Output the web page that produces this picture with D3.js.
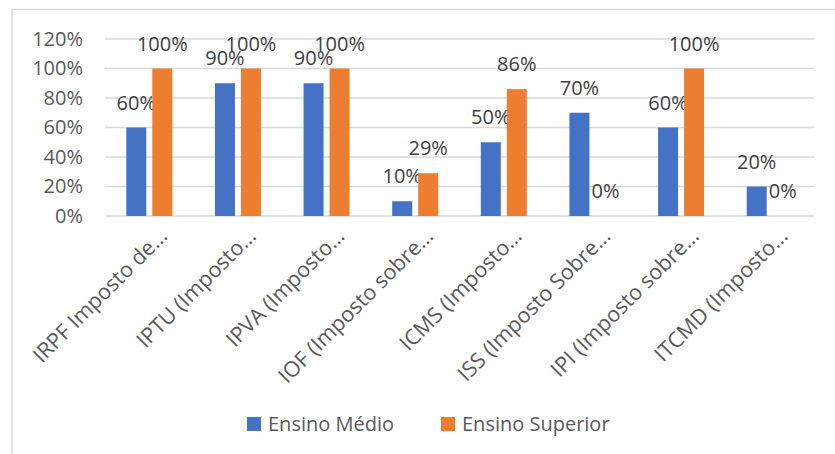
<!DOCTYPE html>
<html><head><meta charset="utf-8">
<script src="https://cdn.jsdelivr.net/npm/d3@7"></script>
<style>body{margin:0;background:#fff}svg{display:block}text{font-family:"Open Sans",Lato,sans-serif}</style>
</head><body><svg id="c" width="835" height="454"></svg>
<script>
const categories = ["IRPF Imposto de…","IPTU (Imposto…","IPVA (Imposto…","IOF (Imposto sobre…","ICMS (Imposto…","ISS (Imposto Sobre…","IPI (Imposto sobre…","ITCMD (Imposto…"];
const seriesNames = ["Ensino Médio","Ensino Superior"];
const ensinoMedio = [60,90,90,10,50,70,60,20];
const ensinoSuperior = [100,100,100,29,86,0,100,0];
const yTicks = [0,20,40,60,80,100,120];
const colors = ["#4472C4","#ED7D31"];

const svg = d3.select("#c");
svg.append("rect").attr("x",12).attr("y",9.5).attr("width",840).attr("height",460)
  .attr("fill","none").attr("stroke","#d9d9d9").attr("stroke-width",1.5);

const x = d3.scaleBand().domain(categories).range([105,814]);
const y = d3.scaleLinear().domain([0,120]).range([216,39]);
const barW = 20, gap = 6;

const g = svg.append("g");
g.selectAll("line.grid").data(yTicks).join("line").attr("class","grid")
  .attr("x1",105).attr("x2",814).attr("y1",d=>y(d)).attr("y2",d=>y(d))
  .attr("stroke","#d9d9d9").attr("stroke-width",1.5);

const yAxis = d3.axisLeft(y).tickValues(yTicks).tickFormat(d=>d+"%").tickSize(0).tickPadding(0);
const ya = svg.append("g").attr("transform","translate(83,0)").call(yAxis);
ya.select(".domain").remove();
ya.selectAll("text").attr("font-size",20).attr("fill","#595959").attr("font-family","Open Sans");

const series = [ensinoMedio, ensinoSuperior];
series.forEach((vals,si)=>{
  const off = si===0 ? -gap/2-barW : gap/2;
  const cx = c => x(c)+x.bandwidth()/2+off;
  g.selectAll("rect.s"+si).data(categories).join("rect").attr("class","s"+si)
    .attr("x",c=>cx(c)).attr("width",barW)
    .attr("y",(c,i)=>y(vals[i])).attr("height",(c,i)=>y(0)-y(vals[i]))
    .attr("fill",colors[si]);
  g.selectAll("text.l"+si).data(categories).join("text").attr("class","l"+si)
    .attr("x",c=>cx(c)+barW/2).attr("y",(c,i)=>y(vals[i])-18)
    .attr("text-anchor","middle").attr("font-size",20).attr("fill","#404040")
    .text((c,i)=>vals[i]+"%");
});

const xAxis = d3.axisBottom(x).tickSize(0).tickPadding(0);
const xa = svg.append("g").attr("transform","translate(0,216)").call(xAxis);
xa.select(".domain").remove();
xa.selectAll("text").attr("font-size",21.5).attr("fill","#595959").attr("font-family","Open Sans")
  .attr("text-anchor","end").attr("dy","0.35em")
  .attr("transform","translate(14,16) rotate(-45)").attr("y",0).attr("x",0);

const leg = svg.append("g");
const legX = [247,441];
seriesNames.forEach((n,i)=>{
  leg.append("rect").attr("x",legX[i]).attr("y",417).attr("width",14).attr("height",14).attr("fill",colors[i]);
  leg.append("text").attr("x",legX[i]+21).attr("y",431).attr("font-size",20).attr("fill","#595959").text(n);
});
</script></body></html>
